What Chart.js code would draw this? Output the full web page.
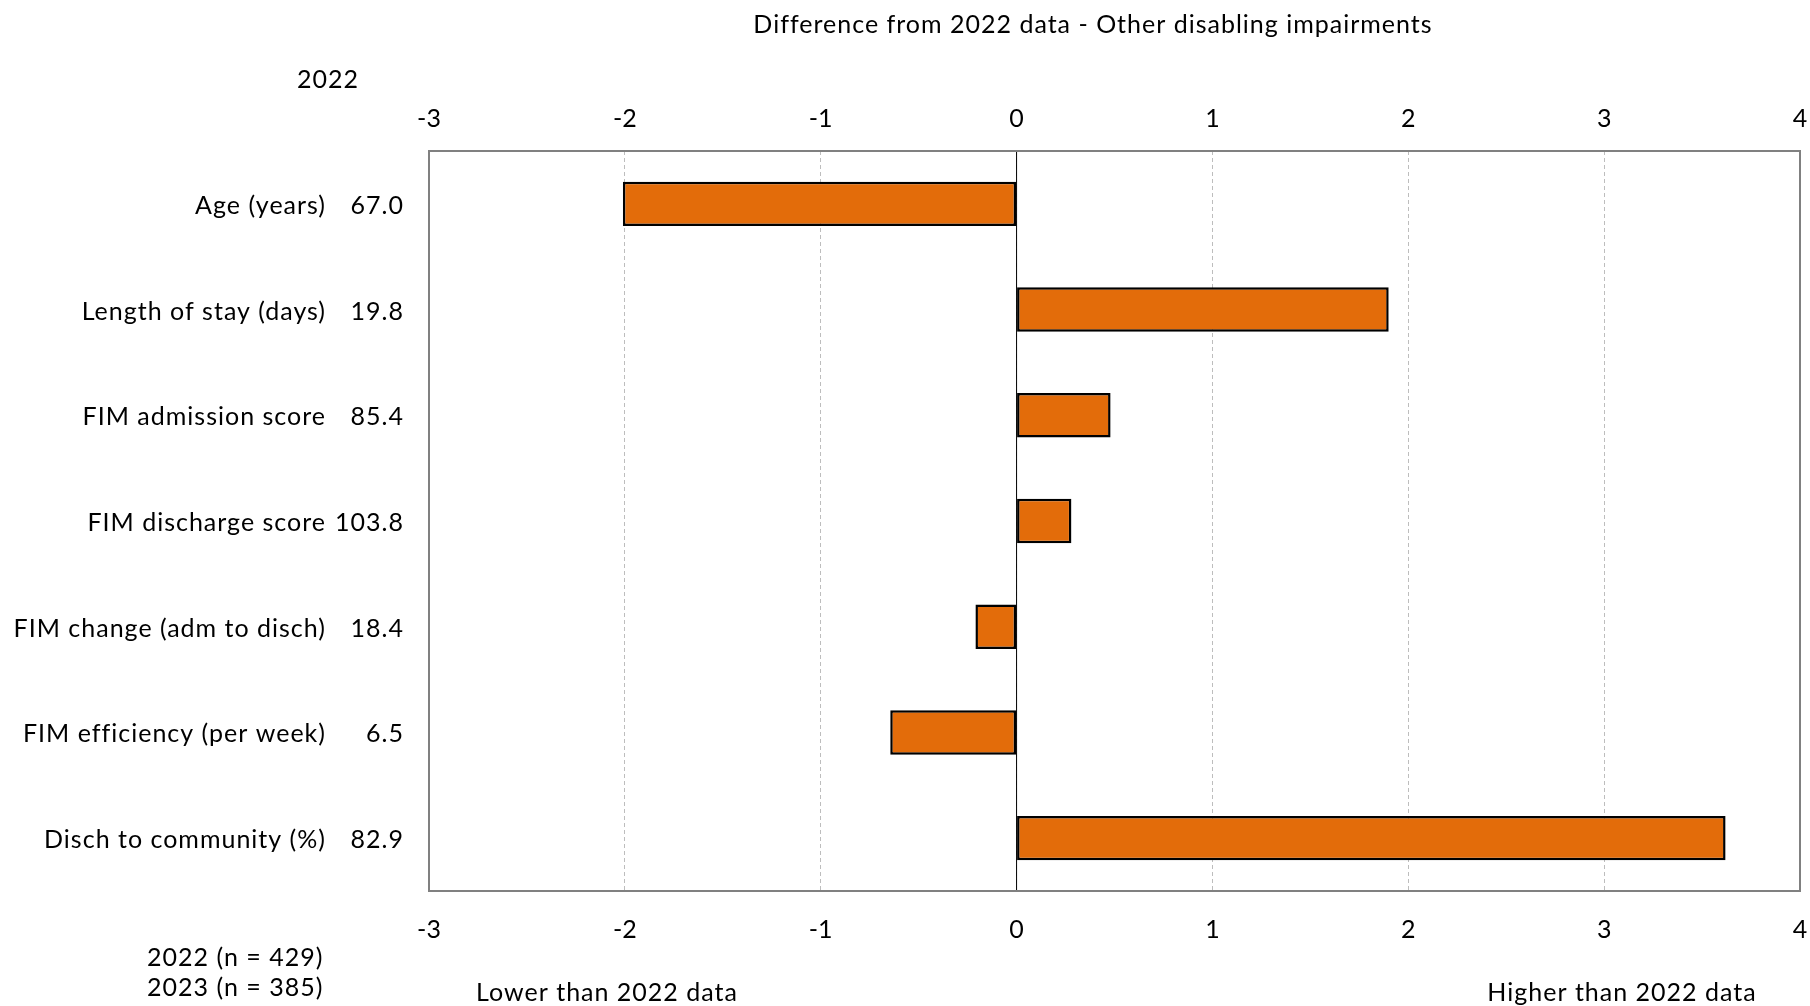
<!DOCTYPE html>
<html>
<head>
<meta charset="utf-8">
<script src="https://cdn.jsdelivr.net/npm/chart.js@4/dist/chart.umd.min.js"></script>
<style>
  body { margin: 0; background: #fff; }
  #wrap { width: 1810px; height: 1006px; position: relative; }
</style>
</head>
<body>
<div id="wrap"><canvas id="diffChart"></canvas></div>
<script>
const categories = [
  "Age (years)",
  "Length of stay (days)",
  "FIM admission score",
  "FIM discharge score",
  "FIM change (adm to disch)",
  "FIM efficiency (per week)",
  "Disch to community (%)",
];
const values2022 = ["67.0", "19.8", "85.4", "103.8", "18.4", "6.5", "82.9"];
const differences = [-2.01, 1.90, 0.48, 0.28, -0.21, -0.645, 3.62];
const xTicks = [-3, -2, -1, 0, 1, 2, 3, 4];

const FONT = "Lato, 'DejaVu Sans', sans-serif";
const FONT_SIZE = 25;

const textPlugin = {
  id: "textPlugin",
  afterDraw(chart) {
    const ctx = chart.ctx;
    const area = chart.chartArea;
    const y = chart.scales.y;
    const x = chart.scales.x;
    ctx.save();

    // zero line
    const zx = x.getPixelForValue(0);
    ctx.strokeStyle = "#000";
    ctx.lineWidth = 1;
    ctx.beginPath();
    ctx.moveTo(zx, area.top);
    ctx.lineTo(zx, area.bottom);
    ctx.stroke();

    // plot frame
    ctx.strokeStyle = "#808080";
    ctx.lineWidth = 2;
    ctx.strokeRect(area.left, area.top, area.right - area.left, area.bottom - area.top);

    ctx.fillStyle = "#000";
    ctx.font = FONT_SIZE + "px " + FONT;
    ctx.letterSpacing = "1px";
    ctx.textBaseline = "middle";

    ctx.textAlign = "center";
    ctx.fillText("Difference from 2022 data - Other disabling impairments", 1093, 25);
    ctx.fillText("2022", 328, 80);

    categories.forEach((c, i) => {
      const py = y.getPixelForValue(i) + 2;
      ctx.textAlign = "right";
      ctx.fillText(c, 326, py);
      ctx.fillText(values2022[i], 404, py);
    });

    ctx.textAlign = "left";
    ctx.fillText("2022 (n = 429)", 147, 958);
    ctx.fillText("2023 (n = 385)", 147, 988);
    ctx.textAlign = "center";
    ctx.fillText("Lower than 2022 data", 607, 993);
    ctx.fillText("Higher than 2022 data", 1622, 993);
    ctx.restore();
  },
};

const tickFont = { family: FONT, size: FONT_SIZE };

new Chart(document.getElementById("diffChart"), {
  type: "bar",
  data: {
    labels: categories,
    datasets: [
      {
        data: differences,
        backgroundColor: "#E36C0A",
        borderColor: "#000",
        borderWidth: 2.5,
        borderSkipped: false,
        barPercentage: 0.42,
        categoryPercentage: 1,
        xAxisID: "x",
      },
    ],
  },
  options: {
    indexAxis: "y",
    responsive: true,
    maintainAspectRatio: false,
    animation: false,
    layout: { padding: { left: 429, right: 10, top: 0, bottom: 0 } },
    plugins: { legend: { display: false }, tooltip: { enabled: false } },
    scales: {
      x: {
        position: "bottom",
        min: -3,
        max: 4,
        afterBuildTicks: (s) => { s.ticks = xTicks.map((v) => ({ value: v })); },
        ticks: { font: tickFont, color: "#000", padding: 24 },
        grid: { color: "#bdbdbd", drawTicks: false, lineWidth: 1 },
        border: { display: false, dash: [4, 3] },
        afterFit: (s) => { s.height = 115; s.paddingLeft = 0; s.paddingRight = 0; },
      },
      xTop: {
        position: "top",
        min: -3,
        max: 4,
        afterBuildTicks: (s) => { s.ticks = xTicks.map((v) => ({ value: v })); },
        ticks: { font: tickFont, color: "#000", padding: 17 },
        grid: { display: false, drawTicks: false },
        border: { display: false },
        afterFit: (s) => { s.height = 151; s.paddingLeft = 0; s.paddingRight = 0; },
      },
      y: {
        ticks: { display: false },
        grid: { display: false },
        border: { display: false },
        afterFit: (s) => { s.width = 0; },
      },
    },
  },
  plugins: [textPlugin],
});
</script>
</body>
</html>
